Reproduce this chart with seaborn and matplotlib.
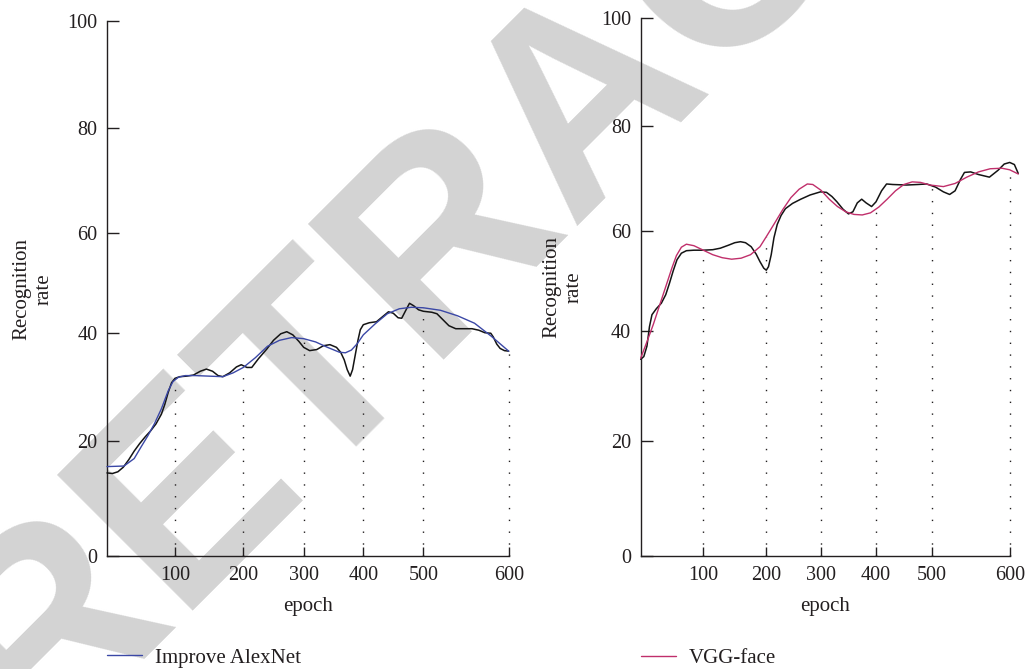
import numpy as np
import pandas as pd
import matplotlib
matplotlib.use("Agg")
import matplotlib.pyplot as plt
import seaborn as sns

# ---------------- data ----------------
x_tick_labels = [100, 200, 300, 400, 500, 600]
y_tick_labels = [0, 20, 40, 60, 80, 100]

alexnet_epoch = [0, 25, 40, 50, 60, 70, 80, 90, 97, 105, 115, 130, 150, 170, 185, 200,
                 220, 240, 260, 280, 300, 320, 340, 360, 370, 380, 390, 400, 420, 440,
                 460, 480, 500, 520, 540, 560, 580, 600]
alexnet_rate = [15.6, 15.7, 17.0, 19.0, 21.0, 23.3, 26.0, 29.3, 31.0, 31.8, 32.1, 32.1,
                32.0, 31.9, 32.6, 33.6, 35.4, 37.5, 38.6, 39.1, 38.9, 38.3, 37.3, 36.4,
                36.3, 36.8, 38.0, 39.6, 41.8, 43.8, 44.8, 45.1, 45.0, 44.5, 43.4, 41.9,
                39.3, 36.6]

alexnet_raw_epoch = [0, 8, 16, 24, 32, 40, 48, 56, 64, 72, 80, 85, 90, 95, 100, 107, 117,
                     127, 137, 146, 155, 163, 170, 180, 190, 197, 206, 214, 225, 239, 250,
                     262, 272, 282, 292, 300, 310, 322, 333, 344, 355, 362, 368, 373, 378,
                     382, 386, 391, 395, 400, 410, 422, 432, 442, 450, 458, 464, 470, 477,
                     484, 492, 500, 510, 516, 523, 530, 538, 548, 557, 565, 572, 579, 582,
                     586, 590, 595, 600]
alexnet_raw_rate = [14.5, 14.4, 14.7, 15.5, 16.8, 18.3, 19.6, 20.8, 21.9, 23.2, 25.0, 26.8,
                    29.0, 30.8, 31.6, 31.9, 32.0, 32.2, 32.9, 33.3, 32.9, 32.1, 31.9, 32.6,
                    33.7, 34.1, 33.6, 33.6, 35.2, 37.0, 38.6, 39.8, 40.2, 39.6, 38.4, 37.3,
                    36.7, 36.9, 37.6, 37.8, 37.3, 36.4, 35.0, 33.2, 32.0, 33.2, 35.6, 38.6,
                    40.6, 41.6, 42.0, 42.2, 43.2, 44.2, 43.9, 43.0, 42.9, 44.3, 45.9, 45.4,
                    44.6, 44.3, 44.1, 43.8, 42.6, 41.4, 40.8, 40.8, 40.8, 40.5, 40.0, 39.9,
                    39.2, 37.9, 37.1, 36.7, 36.6]

vgg_epoch = [0, 10, 20, 30, 40, 50, 57, 65, 73, 85, 100, 115, 130, 145, 160, 175, 190, 200,
             215, 230, 245, 260, 275, 285, 300, 315, 330, 345, 360, 375, 390, 405, 420, 435,
             450, 465, 480, 497, 515, 530, 545, 560, 575, 590, 600, 611]
vgg_rate = [35.0, 38.0, 41.2, 45.0, 48.8, 52.6, 55.0, 56.7, 57.3, 57.0, 56.1, 55.2, 54.6,
            54.3, 54.5, 55.2, 56.8, 58.8, 61.4, 64.0, 66.3, 67.9, 68.9, 68.8, 67.7, 66.0,
            64.6, 63.6, 63.1, 63.0, 63.4, 64.5, 66.0, 67.6, 68.8, 69.3, 69.2, 68.7, 68.4,
            69.0, 70.2, 71.2, 71.8, 71.9, 71.6, 70.8]

vgg_raw_epoch = [0, 5, 10, 14, 18, 25, 33, 40, 46, 52, 58, 65, 73, 85, 100, 115, 127, 140,
                 150, 159, 167, 176, 184, 190, 196, 200, 204, 209, 214, 220, 227, 235, 248,
                 263, 280, 299, 310, 320, 329, 340, 350, 358, 366, 374, 382, 392, 400, 410,
                 419, 430, 455, 475, 491, 505, 515, 523, 530, 537, 542, 550, 560, 574, 585,
                 593, 600, 606, 611]
vgg_raw_rate = [34.8, 35.3, 37.2, 40.8, 43.2, 44.4, 45.5, 47.2, 49.5, 52.0, 54.2, 55.5,
                56.0, 56.1, 56.1, 56.2, 56.5, 57.1, 57.6, 57.8, 57.6, 56.8, 55.3, 53.8,
                52.5, 52.1, 52.8, 55.2, 58.6, 61.2, 62.9, 64.2, 65.2, 66.0, 66.8, 67.4,
                67.3, 66.5, 65.5, 64.1, 63.2, 63.6, 65.3, 66.0, 65.3, 64.6, 65.5, 67.6,
                68.9, 68.8, 68.7, 68.8, 68.9, 68.3, 67.4, 66.9, 67.6, 69.8, 71.1, 71.2,
                70.7, 70.2, 71.5, 72.7, 73.0, 72.6, 70.9]

legend_left = "Improve AlexNet"
legend_right = "VGG-face"
x_label = "epoch"
y_label = "Recognition\nrate"
watermark = "RETRACTED"

# ---------------- style ----------------
sns.set_theme(style="ticks")
plt.rcParams['font.family'] = ['Liberation Serif', 'DejaVu Serif']
INK = '#231f20'
BLUE = '#3b48a6'
MAGENTA = '#c02f6b'
BLACK = '#141414'


def piecewise(knot_vals, knot_pos):
    kv = np.asarray(knot_vals, float)
    kp = np.asarray(knot_pos, float)
    s0 = (kp[1] - kp[0]) / (kv[1] - kv[0])
    s1 = (kp[-1] - kp[-2]) / (kv[-1] - kv[-2])
    kv = np.concatenate([[kv[0] - 1e4], kv, [kv[-1] + 1e4]])
    kp = np.concatenate([[kp[0] - 1e4 * s0], kp, [kp[-1] + 1e4 * s1]])
    return (lambda v: np.interp(v, kv, kp)), (lambda p: np.interp(p, kp, kv))


fig = plt.figure(figsize=(10.26, 6.69), dpi=100)
fig.patch.set_facecolor('white')

fig.text(588 / 1026, 1 - 95 / 669, watermark, rotation=45, fontsize=200,
         family='Liberation Sans', fontweight='bold', color='#d3d3d3',
         ha='center', va='center', zorder=-5)

panels = [
    dict(rect=[0.10429, 0.16846, 0.39152, 0.79970],
         xknots=[0, 68, 136.3, 196.7, 256.3, 316.3, 401.7],
         yknots=[0, 115, 223.6, 323.3, 428, 535],
         ex=alexnet_epoch, ey=alexnet_rate, rx=alexnet_raw_epoch, ry=alexnet_raw_rate,
         color=BLUE, label=legend_left, ylab_x=-0.184, leg_y=-0.190),
    dict(rect=[0.62446, 0.16891, 0.35965, 0.80374],
         xknots=[0, 62.6, 125.6, 180.3, 235.3, 291, 369],
         yknots=[0, 115.3, 225.3, 325.3, 430.3, 537.7],
         ex=vgg_epoch, ey=vgg_rate, rx=vgg_raw_epoch, ry=vgg_raw_rate,
         color=MAGENTA, label=legend_right, ylab_x=-0.2106, leg_y=-0.191),
]

for p in panels:
    ax = fig.add_axes(p['rect'])
    ax.set_facecolor('none')
    ax.set_xscale('function', functions=piecewise([0] + x_tick_labels, p['xknots']))
    ax.set_yscale('function', functions=piecewise(y_tick_labels, p['yknots']))
    ax.set_xlim(0, 600)
    ax.set_ylim(0, 100)

    # dotted drop lines at each x tick, up to the coloured series
    tops = np.interp(x_tick_labels, p['ex'], p['ey'])
    ax.vlines(x_tick_labels, 0, tops, colors=INK, linestyles=(0, (1, 7.5)), lw=1.0,
              zorder=1, clip_on=False)

    sns.lineplot(x=p['rx'], y=p['ry'], ax=ax, color=BLACK, lw=1.1, estimator=None,
                 sort=False, legend=False, clip_on=False, zorder=3)
    sns.lineplot(x=p['ex'], y=p['ey'], ax=ax, color=p['color'], lw=1.0, estimator=None,
                 sort=False, label=p['label'], clip_on=False, zorder=4)

    sns.despine(ax=ax)
    for s in ('left', 'bottom'):
        ax.spines[s].set_color(INK)
        ax.spines[s].set_linewidth(1.0)

    ax.set_xticks(x_tick_labels)
    ax.set_xticklabels([str(v) for v in x_tick_labels])
    ax.set_yticks(y_tick_labels)
    ax.set_yticklabels([str(v) for v in y_tick_labels])
    ax.minorticks_off()
    ax.tick_params(axis='y', direction='in', length=8.4, width=1.0, color=INK,
                   labelcolor=INK, labelsize=14.5, pad=7)
    ax.tick_params(axis='x', direction='in', length=6.3, width=1.0, color=INK,
                   labelcolor=INK, labelsize=14.5, pad=7)

    ax.set_xlabel(x_label, fontsize=15, color=INK)
    ax.xaxis.set_label_coords(0.5, -(597 - 556) / 535)
    ax.set_ylabel(y_label, fontsize=15, color=INK, linespacing=1.2)
    ax.yaxis.label.set_verticalalignment('center')
    ax.yaxis.set_label_coords(p['ylab_x'], 0.5)

    handles, labels = ax.get_legend_handles_labels()
    leg = ax.legend(handles=handles, labels=labels, loc='center left',
                    bbox_to_anchor=(0, p['leg_y']), frameon=False, borderpad=0,
                    borderaxespad=0, handlelength=1.7, handletextpad=0.6,
                    fontsize=15, labelcolor=INK)

fig.savefig('out.png', dpi=100, facecolor='white')
